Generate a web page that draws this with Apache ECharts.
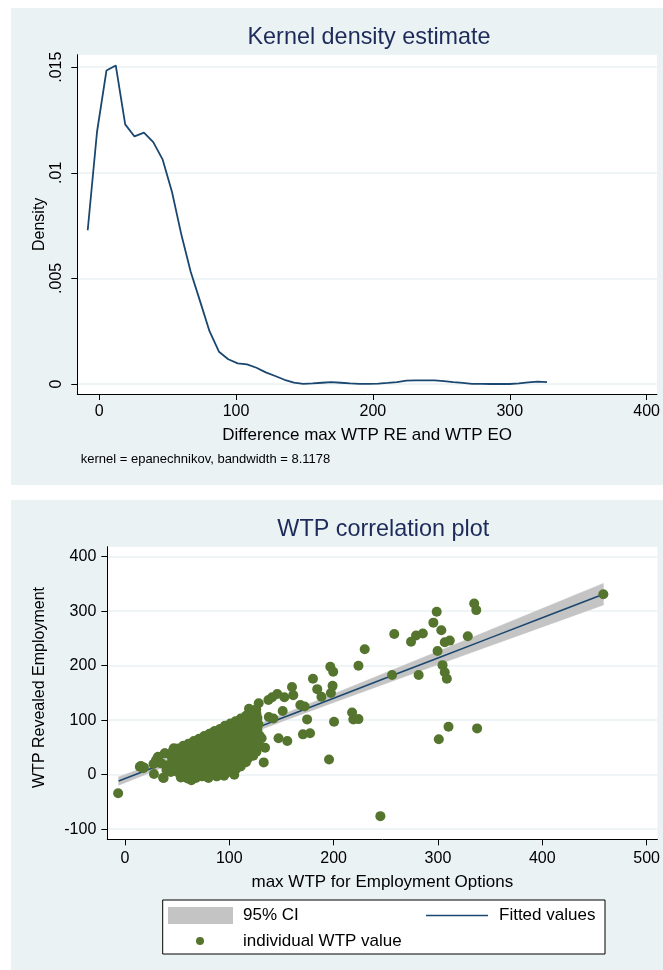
<!DOCTYPE html>
<html>
<head>
<meta charset="utf-8">
<title>Kernel density / WTP correlation</title>
<script src="https://cdn.jsdelivr.net/npm/echarts@6/dist/echarts.min.js"></script>
<style>
  html, body { margin: 0; padding: 0; background: #fff; }
  body { width: 663px; height: 970px; position: relative; overflow: hidden; }
  #kde { position: absolute; left: 11px; top: 8px; width: 652px; height: 477px; }
  #wtp { position: absolute; left: 11px; top: 500px; width: 652px; height: 470px; }
</style>
</head>
<body>
<div id="kde"></div>
<div id="wtp"></div>
<script>
// ---- kernel density (top panel) ----
var kdeX = [-8.4, -1.6, 5.3, 12.1, 19.0, 25.8, 32.7, 39.5, 46.4, 53.2, 60.1, 66.9, 73.8, 80.6, 87.5,
  94.3, 101.2, 108.0, 114.9, 121.7, 128.6, 135.4, 142.3, 149.1, 156.0, 162.8, 169.7, 176.5, 183.4,
  190.2, 197.1, 203.9, 210.8, 217.6, 224.5, 231.3, 238.2, 245.0, 251.9, 258.7, 265.6, 272.4, 279.3,
  286.1, 293.0, 299.8, 306.7, 313.5, 320.4, 327.2];
var kdeDensity = [0.00728, 0.01193, 0.01484, 0.01508, 0.01229, 0.01172, 0.0119, 0.01145, 0.01062,
  0.00909, 0.00705, 0.0053, 0.0039, 0.0025, 0.00153, 0.00117, 0.00098, 0.00093, 0.00077, 0.00055,
  0.00038, 0.0002, 0.00007, 0.00001, 0.00003, 0.00006, 0.00009, 0.00006, 0.00003, 0.00001, 0.00001,
  0.00002, 0.00005, 0.00009, 0.00016, 0.00017, 0.00017, 0.00017, 0.00014, 0.00009, 0.00005, 0.00001,
  0.00001, 0, 0, 0, 0.00003, 0.00008, 0.00011, 0.00009];
var kdeXTicks = [0, 100, 200, 300, 400];
var kdeYTicks = [0, 0.005, 0.01, 0.015];
var kdeYLabels = ['0', '.005', '.01', '.015'];

// ---- WTP correlation (bottom panel) ----
var ciX = [-6, 50, 100, 150, 200, 250, 300, 350, 400, 458.5];
var ciLow = [-19.2, 23.7, 61.1, 97.3, 132.7, 167.5, 202.2, 236.8, 271.2, 311.5];
var ciHigh = [-4.0, 35.7, 72.1, 109.7, 148.1, 187.1, 226.2, 265.4, 304.8, 350.9];
var fitY = [-11.6, 29.7, 66.6, 103.5, 140.4, 177.3, 214.2, 251.1, 288.0, 331.2];
var wtpXTicks = [0, 100, 200, 300, 400, 500];
var wtpYTicks = [-100, 0, 100, 200, 300, 400];

// [max WTP employment options, WTP revealed employment]
var wtpPoints = [
  // spread-out respondents
  [-6.5, -34], [458.5, 331], [334.7, 314], [336.7, 302], [298.8, 299], [295.6, 279], [303.2, 265],
  [258.1, 258], [279, 255.5], [285.5, 259], [274.2, 244], [328.6, 254], [306.5, 243], [311.3, 246],
  [299.6, 227], [229.8, 230], [223.8, 200], [304.4, 201], [306.5, 188], [308.5, 176], [256, 183],
  [281.5, 183], [196.8, 198], [199.6, 189], [180.2, 176], [184.3, 157], [199, 163], [197.4, 150],
  [188.3, 143], [160.1, 161], [161.3, 146], [152.8, 142], [146, 148], [141.1, 142], [137.5, 137],
  [128.2, 131], [125.8, 120], [118.9, 121], [151.2, 117], [168.1, 128], [172.2, 125], [174.6, 101.5],
  [217.7, 114], [218.9, 101.5], [223.8, 102], [200.4, 97], [137.9, 106], [142.3, 103], [310.1, 88],
  [337.5, 85], [300.8, 65], [170.6, 74], [177.4, 76], [147.2, 67], [155.6, 62], [134.3, 49.5],
  [133, 22.6], [195.6, 28], [244.8, -76], [104.8, 0], [93.5, 5.5], [27.8, 1.2], [37.1, -6],
  [63.7, -10], [53.6, -5], [15.3, 16], [18.1, 13.4], [27.4, 19.6], [31, 30], [38.3, 39], [34.3, 21],
  [108.9, 24], [123, 45], [127, 82], [131, 67], [82.7, 1.2], [77.8, 2.4],
  [39.8, 8.6], [35, 21], [14.3, 14.7], [17.5, 11.7], [29.6, 25.7], [31.8, 33], [36.6, -5.5],
  [38.2, 39.3], [44.6, 33], [46.8, 48.4], [42, 18], [44, 5],
  // dense cluster
  [46, 44], [51, 48], [56, 53], [61, 57], [66, 62], [71, 66], [76, 71], [81, 75], [86, 80], [91, 84],
  [96, 89], [101, 94], [106, 98], [111, 103], [116, 108], [121, 113],
  [108, 92], [114, 96], [119, 102], [124, 98], [126, 112],
  [90, 78], [95, 82], [100, 86], [104, 80], [109, 86], [114, 84], [119, 90], [124, 88], [128, 92],
  [74, 62], [79, 66], [84, 70], [89, 66], [94, 72], [99, 68], [104, 74], [109, 68], [114, 74],
  [119, 70], [124, 76], [129, 72],
  [58, 46], [63, 50], [68, 54], [73, 50], [78, 56], [83, 52], [88, 58], [93, 54], [98, 60], [103, 56],
  [108, 60], [113, 54], [118, 58], [123, 55], [128, 58],
  [50, 38], [55, 42], [60, 37], [65, 42], [70, 38], [75, 44], [80, 40], [85, 45], [90, 39], [95, 44],
  [100, 40], [105, 46], [110, 40], [115, 44], [120, 38], [126, 42],
  [47, 28], [52, 25], [57, 31], [62, 26], [67, 32], [72, 27], [77, 31], [82, 25], [87, 32], [92, 27],
  [97, 31], [102, 25], [107, 31], [113, 27], [118, 30],
  [49, 15], [54, 19], [59, 13], [64, 18], [69, 14], [74, 20], [79, 14], [84, 18], [89, 13], [94, 19],
  [99, 14], [104, 17], [111, 15],
  [51, 4], [56, 1], [61, 6], [66, 2], [71, 7], [76, 3], [81, 6], [86, 2], [91, 8], [97, 3], [101, 7],
  [58, -4], [68, -6], [74, -3], [88, -3], [60, -7], [80, -6], [95, -2],
  [53, 10], [60, 9], [67, 11], [73, 9], [80, 10], [87, 9], [93, 11], [100, 10], [106, 9],
  [50, 21], [57, 23], [63, 22], [70, 21], [77, 23], [84, 22], [90, 23], [97, 21], [104, 22], [110, 21],
  [116, 23],
  [52, 34], [58, 35], [64, 36], [70, 34], [76, 36], [82, 34], [88, 35], [94, 36], [100, 35], [106, 34],
  [112, 36], [118, 34], [123, 35],
  [56, 48], [62, 47], [68, 49], [74, 47], [80, 49], [86, 48], [92, 47], [98, 49], [104, 48], [110, 47],
  [116, 49], [121, 47], [127, 49],
  [68, 61], [74, 60], [80, 62], [86, 61], [92, 63], [98, 62], [104, 61], [110, 63], [116, 62],
  [122, 64], [127, 62],
  [84, 77], [90, 72], [96, 77], [102, 79], [108, 77], [114, 79], [120, 78], [126, 80],
  [96, 90], [102, 88], [110, 92], [116, 91], [122, 94], [127, 96],
  [110, 100], [116, 104], [122, 108], [127, 104]
];

var FONT = '"Liberation Sans", Arial, Helvetica, sans-serif';
var navy = '#1a476f';
var titleNavy = '#1d2b5b';
var panelBg = '#eaf2f3';
var gridCol = '#eaf2f3';
var green = '#55752f';
var ciGray = '#c4c4c4';

function pairs(xs, ys) {
  return xs.map(function (x, i) { return [x, ys[i]]; });
}

function axisBase(ticks) {
  return {
    type: 'value',
    axisLine: { show: true, onZero: false, lineStyle: { color: '#000', width: 1 } },
    axisTick: { show: true, length: 6, customValues: ticks, lineStyle: { color: '#000' } },
    axisLabel: { customValues: ticks, color: '#000', fontSize: 16, fontFamily: FONT },
    splitLine: { show: false },
    nameLocation: 'middle',
    nameMoveOverlap: false,
    nameTextStyle: { color: '#000', fontSize: 17, fontFamily: FONT }
  };
}

// ---------- top chart ----------
var kdeChart = echarts.init(document.getElementById('kde'));
var kx = axisBase(kdeXTicks);
kx.min = -16; kx.max = 407.5;
kx.axisLabel.margin = 10;
kx.name = 'Difference max WTP RE and WTP EO';
kx.nameGap = 33;
var ky = axisBase(kdeYTicks);
ky.min = -0.000473; ky.max = 0.01559;
ky.axisLabel.rotate = 90;
ky.axisLabel.margin = 13;
ky.axisLabel.formatter = function (v) { return kdeYLabels[kdeYTicks.indexOf(v)]; };
ky.splitLine = { show: true, lineStyle: { color: gridCol, width: 1.5 } };
ky.name = 'Density';
ky.nameGap = 30;
ky.nameTextStyle.fontSize = 16;

kdeChart.setOption({
  backgroundColor: panelBg,
  animation: false,
  textStyle: { fontFamily: FONT },
  title: [
    { text: 'Kernel density estimate', left: 236.5, top: 18, padding: 0,
      textStyle: { fontSize: 23.4, fontWeight: 'normal', color: titleNavy, fontFamily: FONT } },
    { text: 'kernel = epanechnikov, bandwidth = 8.1178', left: 69.7, top: 444.5, padding: 0,
      textStyle: { fontSize: 13, fontWeight: 'normal', color: '#000', fontFamily: FONT } }
  ],
  grid: { left: 66.3, top: 46.7, right: 4, bottom: 91, show: true, backgroundColor: '#fff', borderWidth: 0 },
  xAxis: kx,
  yAxis: ky,
  series: [{
    type: 'line',
    data: pairs(kdeX, kdeDensity),
    showSymbol: false,
    symbol: 'none',
    lineStyle: { color: navy, width: 1.8 },
    silent: true
  }]
});

// ---------- bottom chart ----------
var wtpChart = echarts.init(document.getElementById('wtp'));
var wx = axisBase(wtpXTicks);
wx.min = -16.9; wx.max = 510.3;
wx.axisLabel.margin = 11;
wx.name = 'max WTP for Employment Options';
wx.nameGap = 35;
var wy = axisBase(wtpYTicks);
wy.min = -118.5; wy.max = 418.3;
wy.axisLabel.margin = 11;
wy.splitLine = { show: true, lineStyle: { color: gridCol, width: 1.5 } };
wy.name = 'WTP Revealed Employment';
wy.nameGap = 60;
wy.nameTextStyle.fontSize = 16;
wy.nameTextStyle.padding = [0, 0, 0, 11];

var legendText = { color: '#000', fontSize: 17, fontFamily: FONT };

// confidence band drawn segment by segment between consecutive ciX values
function renderBand(params, api) {
  var i = params.dataIndex;
  if (i >= ciX.length - 1) return;
  var pts = [
    api.coord([ciX[i], ciLow[i]]),
    api.coord([ciX[i + 1], ciLow[i + 1]]),
    api.coord([ciX[i + 1], ciHigh[i + 1]]),
    api.coord([ciX[i], ciHigh[i]])
  ];
  return {
    type: 'polygon',
    shape: { points: pts },
    style: { fill: ciGray, stroke: ciGray, lineWidth: 0.6 }
  };
}

wtpChart.setOption({
  backgroundColor: panelBg,
  animation: false,
  textStyle: { fontFamily: FONT },
  title: {
    text: 'WTP correlation plot', left: 266.3, top: 18.5, padding: 0,
    textStyle: { fontSize: 23.4, fontWeight: 'normal', color: titleNavy, fontFamily: FONT }
  },
  grid: { left: 96.3, top: 46.7, right: 3.7, bottom: 130.7, show: true, backgroundColor: '#fff', borderWidth: 0 },
  xAxis: wx,
  yAxis: wy,
  graphic: [{
    type: 'rect', z: 1,
    shape: { x: 151.7, y: 400, width: 442.3, height: 54 },
    style: { fill: '#fff', stroke: '#000', lineWidth: 1 }
  }],
  legend: [
    { data: [{ name: '95% CI', icon: 'rect' }], left: 157, top: 407, padding: 0,
      itemWidth: 65, itemHeight: 17, selectedMode: false, itemStyle: { borderWidth: 0 },
      textStyle: Object.assign({ padding: [0, 0, 0, 5] }, legendText) },
    { data: [{ name: 'Fitted values', icon: 'rect' }], left: 415, top: 407, padding: 0,
      itemWidth: 62, itemHeight: 1.5, selectedMode: false, itemStyle: { borderWidth: 0 },
      textStyle: Object.assign({ padding: [0, 0, 0, 6] }, legendText) },
    { data: [{ name: 'individual WTP value', icon: 'circle' }], left: 185, top: 432.5, padding: 0,
      itemWidth: 8, itemHeight: 8, selectedMode: false, itemStyle: { borderWidth: 0 },
      textStyle: Object.assign({ padding: [0, 0, 0, 34] }, legendText) }
  ],
  series: [
    {
      name: '95% CI', type: 'custom', z: 1, silent: true,
      data: ciX.map(function (x, i) { return [x, ciLow[i], ciHigh[i]]; }),
      encode: { x: 0, y: [1, 2] },
      itemStyle: { color: ciGray },
      renderItem: renderBand
    },
    {
      name: 'Fitted values', type: 'line', z: 2,
      data: pairs(ciX, fitY), symbol: 'none', showSymbol: false, silent: true,
      itemStyle: { color: navy },
      lineStyle: { color: navy, width: 1.5 }
    },
    {
      name: 'individual WTP value', type: 'scatter', z: 3,
      data: wtpPoints, symbol: 'circle', symbolSize: 10, silent: true,
      itemStyle: { color: green, opacity: 1 }
    }
  ]
});
</script>
</body>
</html>
